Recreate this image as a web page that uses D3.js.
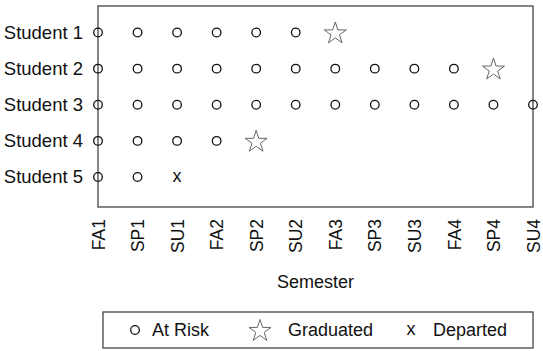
<!DOCTYPE html>
<html>
<head>
<meta charset="utf-8">
<script src="https://cdn.jsdelivr.net/npm/d3@7"></script>
<style>
  html, body { margin: 0; padding: 0; background: #fff; }
  svg text { font-family: "Liberation Sans", Arial, sans-serif; fill: #111; }
</style>
</head>
<body>
<svg id="chart" width="543" height="351"></svg>
<script>
// ---- data ----
const semesters = ["FA1","SP1","SU1","FA2","SP2","SU2","FA3","SP3","SU3","FA4","SP4","SU4"];
const students = ["Student 1","Student 2","Student 3","Student 4","Student 5"];
const student1 = ["At Risk","At Risk","At Risk","At Risk","At Risk","At Risk","Graduated"];
const student2 = ["At Risk","At Risk","At Risk","At Risk","At Risk","At Risk","At Risk","At Risk","At Risk","At Risk","Graduated"];
const student3 = ["At Risk","At Risk","At Risk","At Risk","At Risk","At Risk","At Risk","At Risk","At Risk","At Risk","At Risk","At Risk"];
const student4 = ["At Risk","At Risk","At Risk","At Risk","Graduated"];
const student5 = ["At Risk","At Risk","Departed"];
const statuses = ["At Risk","Graduated","Departed"];
const xTitle = "Semester";

const records = [student1, student2, student3, student4, student5];
const points = [];
records.forEach((seq, i) => seq.forEach((s, j) => points.push({student: students[i], semester: semesters[j], status: s})));

// ---- layout ----
const svg = d3.select("#chart");
const plot = {left: 98, right: 533, top: 6, bottom: 207};
const x = d3.scalePoint().domain(semesters).range([plot.left, plot.right]);
const y = d3.scalePoint().domain(students).range([32.5, 177]);

// frame
svg.append("rect")
  .attr("x", plot.left).attr("y", plot.top)
  .attr("width", plot.right - plot.left).attr("height", plot.bottom - plot.top)
  .attr("fill", "none").attr("stroke", "#444").attr("stroke-width", 1.3);

// y axis labels
const yAxis = d3.axisLeft(y).tickSize(0).tickPadding(15);
const gy = svg.append("g").attr("transform", `translate(${plot.left},0)`).call(yAxis);
gy.select(".domain").remove();
gy.selectAll("text").style("font-size", "18.5px").attr("fill", "#111");

// x axis labels (rotated)
const xAxis = d3.axisBottom(x).tickSize(0).tickPadding(0);
const gx = svg.append("g").attr("transform", `translate(0,${plot.bottom})`).call(xAxis);
gx.select(".domain").remove();
gx.selectAll("text")
  .style("font-size", "17.5px").attr("fill", "#111")
  .attr("text-anchor", "end")
  .attr("transform", "rotate(-90)")
  .attr("x", -12).attr("y", 0).attr("dy", "0.35em");

// x title
svg.append("text")
  .attr("x", (plot.left + plot.right) / 2).attr("y", 288)
  .attr("text-anchor", "middle").style("font-size", "18px")
  .text(xTitle);

// symbols
const star = d3.symbol().type(d3.symbolStar).size(150);
function drawMark(g, status) {
  if (status === "At Risk") {
    g.append("circle").attr("r", 4.3).attr("fill", "none").attr("stroke", "#111").attr("stroke-width", 1.3);
  } else if (status === "Graduated") {
    g.append("path").attr("d", star()).attr("fill", "none").attr("stroke", "#666").attr("stroke-width", 1).attr("transform", "translate(0,1)");
  } else {
    g.append("text").attr("text-anchor", "middle").attr("dy", "0.3em").style("font-size", "18px").text("x");
  }
}

svg.append("g").selectAll("g").data(points).join("g")
  .attr("transform", d => `translate(${x(d.semester)},${y(d.student)})`)
  .each(function(d) { drawMark(d3.select(this), d.status); });

// legend
const legend = {left: 103, right: 533, top: 312, bottom: 348};
svg.append("rect")
  .attr("x", legend.left).attr("y", legend.top)
  .attr("width", legend.right - legend.left).attr("height", legend.bottom - legend.top)
  .attr("fill", "none").attr("stroke", "#444").attr("stroke-width", 1.3);
const legX = d3.scaleOrdinal().domain(statuses).range([135, 260, 411]);
const legGap = d3.scaleOrdinal().domain(statuses).range([17, 28, 22]);
const legItems = svg.append("g").selectAll("g").data(statuses).join("g")
  .attr("transform", d => `translate(${legX(d)},${(legend.top + legend.bottom) / 2})`);
legItems.each(function(d) { drawMark(d3.select(this), d); });
legItems.append("text")
  .attr("x", d => legGap(d))
  .attr("dy", "0.35em").style("font-size", "18px")
  .text(d => d);
</script>
</body>
</html>
